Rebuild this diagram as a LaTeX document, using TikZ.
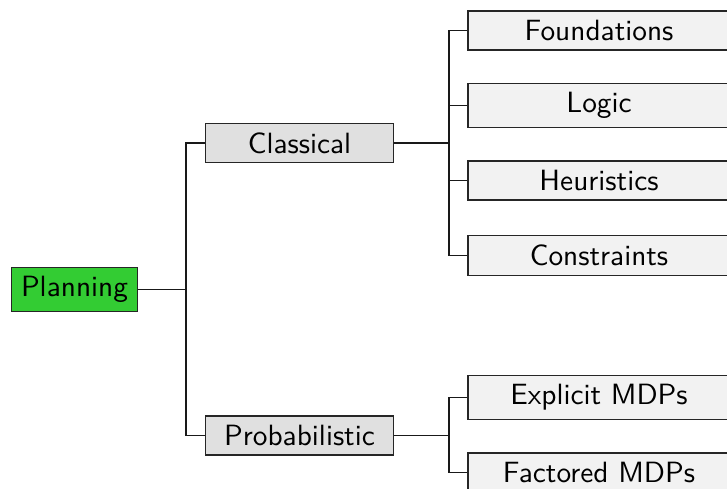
\documentclass[tikz,border=0pt]{standalone}
\usetikzlibrary{positioning,calc}
\definecolor{plangreen}{HTML}{33CC33}
\definecolor{midgray}{HTML}{E0E0E0}
\definecolor{leafgray}{HTML}{F2F2F2}
\tikzset{
  boxfont/.style={font=\sffamily\fontsize{10.7pt}{12pt}\selectfont},
  rootbox/.style={draw=black!85, fill=plangreen, boxfont},
  midbox/.style={draw=black!85, fill=midgray, boxfont, minimum width=68.3pt},
  leafbox/.style={draw=black!85, fill=leafgray, boxfont, minimum width=95.6pt},
  link/.style={draw=black!90, line width=0.45pt}
}
\begin{document}
\begin{tikzpicture}[x=0.365pt, y=-0.365pt]

  % ---- Frame ----
  \useasboundingbox (0,0) rectangle (727,488);
  \clip (0,0) rectangle (727,488);

  % ---- Root ----
  \node[rootbox] (plan) at (74.5,289.5) {Planning};

  % ---- Second level ----
  \node[midbox] (cls)  at (299.5,143)   {Classical};
  \node[midbox] (prob) at (299.5,435.5) {Probabilistic};

  % ---- Leaves ----
  \node[leafbox] (found) at (599,30.5)  {Foundations};
  \node[leafbox] (logic) at (599,105.5) {Logic};
  \node[leafbox] (heur)  at (599,180.5) {Heuristics};
  \node[leafbox] (cons)  at (599,255.5) {Constraints};
  \node[leafbox] (expl)  at (599,397.5) {Explicit MDPs};
  \node[leafbox] (fact)  at (599,472.5) {Factored MDPs};

  % ---- Junctions ----
  \coordinate (jroot) at (186,289.5);
  \coordinate (jcls)  at (449,143);
  \coordinate (jprob) at (449,435.5);

  % ---- Connectors ----
  \draw[link] (plan.east) -- (jroot);
  \draw[link] (jroot) |- (cls.west);
  \draw[link] (jroot) |- (prob.west);
  \draw[link] (cls.east) -- (jcls);
  \foreach \leaf in {found,logic,heur,cons}{
    \draw[link] (jcls) |- (\leaf.west);
  }
  \draw[link] (prob.east) -- (jprob);
  \foreach \leaf in {expl,fact}{
    \draw[link] (jprob) |- (\leaf.west);
  }

\end{tikzpicture}
\end{document}
